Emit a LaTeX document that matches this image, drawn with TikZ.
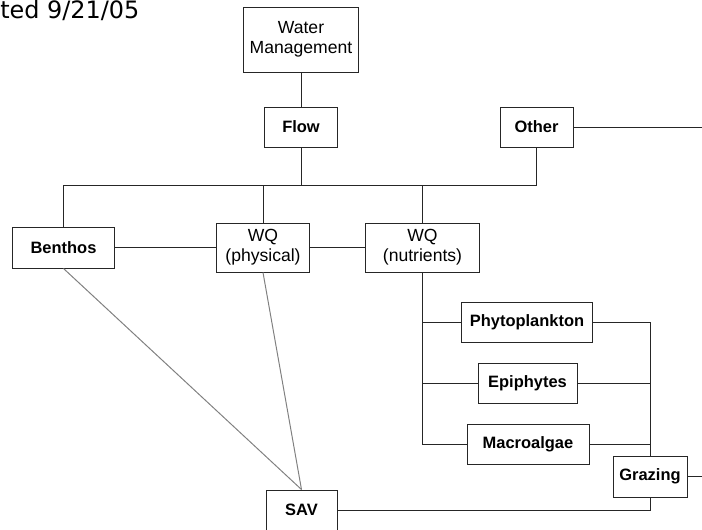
\documentclass[tikz,border=0pt]{standalone}
\usepackage{fontspec}
\setmainfont{Liberation Sans}
\newfontfamily\datefont{DejaVu Sans}
\usetikzlibrary{positioning}

\begin{document}
\begin{tikzpicture}[
        x=0.025cm, y=-0.025cm,
        font=\fontsize{11.7}{14}\selectfont\bfseries,
        box/.style={draw=black!85, line width=0.7pt, fill=white, align=center, inner sep=0pt, minimum height=1cm},
        twoline/.style={font=\fontsize{12.5}{14}\selectfont},
        link/.style={draw=black!85, line width=0.7pt},
        faint/.style={draw=gray, line width=0.7pt}
    ]
    \useasboundingbox (0,0) rectangle (702,529);
    \clip (0,0) rectangle (702,529);
    % Date
    \node[anchor=base west, inner sep=0pt, font=\datefont\fontsize{17}{20}\selectfont] (date) at (0,18.5) {ted 9/21/05};
    % Nodes
    \node[box, twoline, minimum width=2.875cm, minimum height=1.625cm] (wm) at (301,39.5) {Water\\Management};
    \node[box, minimum width=1.825cm] (flow) at (301,127) {Flow};
    \node[box, minimum width=1.825cm] (other) at (536.5,127) {Other};
    \node[box, minimum width=2.525cm, minimum height=1.025cm] (benthos) at (63.5,247.5) {Benthos};
    \node[box, twoline, minimum width=2.3cm, minimum height=1.225cm] (wqp) at (263,247.5) {WQ\\(physical)};
    \node[box, twoline, minimum width=2.825cm, minimum height=1.225cm] (wqn) at (422.5,247.5) {WQ\\(nutrients)};
    \node[box, minimum width=3.25cm] (phyto) at (527,322) {Phytoplankton};
    \node[box, minimum width=2.475cm] (epi) at (527.5,383) {Epiphytes};
    \node[box, minimum width=3.05cm] (macro) at (528,444) {Macroalgae};
    \node[box, minimum width=1.85cm, minimum height=1.025cm] (grazing) at (650,476.5) {Grazing};
    \node[box, minimum width=1.775cm] (sav) at (301.5,510) {SAV};
    \coordinate (bus) at (0,185);
    \coordinate (otherend) at (712,127);
    \coordinate (grazingend) at (712,476.5);

    \draw[link] (wm) -- (flow);
    \draw[link] (flow) -- (flow |- bus);
    \draw[link] (benthos.north) -- (benthos.north |- bus) -- (other.south |- bus) -- (other.south);
    \draw[link] (wqp.north) -- (wqp.north |- bus);
    \draw[link] (wqn.north) -- (wqn.north |- bus);
    \draw[link] (other) -- (otherend);
    \draw[link] (benthos) -- (wqp);
    \draw[link] (wqp) -- (wqn);
    \draw[link] (wqn.south) -- (wqn.south |- macro.west) -- (macro.west);
    \foreach \n in {phyto, epi}
        \draw[link] (wqn.south |- \n.west) -- (\n.west);
    \draw[link] (phyto.east) -| (grazing.north);
    \foreach \n in {epi, macro}
        \draw[link] (\n.east) -- (\n.east -| grazing.north);
    \draw[link] (grazing) -- (grazingend);
    \draw[link] (grazing.south) |- (sav.east);
    \draw[faint] (benthos.south) -- (sav.north);
    \draw[faint] (wqp.south) -- (sav.north);
\end{tikzpicture}
\end{document}
